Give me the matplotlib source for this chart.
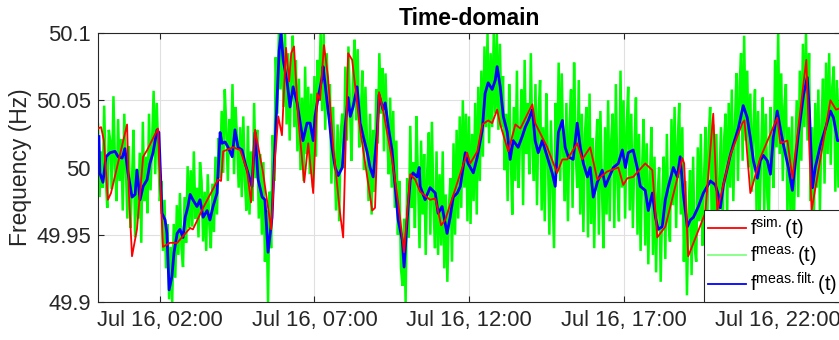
import numpy as np
import matplotlib
matplotlib.use("Agg")
import matplotlib.pyplot as plt
import matplotlib.dates as mdates

plt.rcParams["font.family"] = ["Liberation Sans", "DejaVu Sans"]
plt.rcParams["mathtext.fontset"] = "custom"
plt.rcParams["mathtext.rm"] = "Liberation Sans"
plt.rcParams["mathtext.it"] = "Liberation Sans"

# ---- data (hours after Jul 16, 00:00; frequency in Hz) ----
sim_hours = [0.00, 0.10, 0.19, 0.32, 0.42, 0.94, 1.00, 1.10, 1.26, 1.46, 1.59, 1.94,
             2.10, 2.33, 2.56, 2.98, 3.07, 3.40, 3.88, 3.98, 4.05, 4.37, 4.60, 4.82,
             4.95, 5.08, 5.34, 5.60, 5.73, 5.83, 5.95, 6.08, 6.18, 6.25, 6.34, 6.47,
             6.67, 6.80, 6.96, 7.09, 7.18, 7.31, 7.44, 7.61, 7.83, 7.93, 8.09, 8.22,
             8.48, 8.87, 8.96, 9.09, 9.22, 9.51, 9.71, 9.90, 10.10, 10.26, 10.42, 10.74,
             10.91, 11.10, 11.23, 11.94, 12.04, 12.27, 12.43, 12.62, 12.75, 12.91, 13.01,
             13.27, 13.50, 13.66, 14.05, 14.14, 14.53, 14.85, 15.02, 15.18, 15.50, 15.66,
             15.92, 16.15, 16.47, 16.83, 16.99, 17.12, 17.31, 17.70, 17.93, 18.09, 18.35,
             18.90, 18.96, 19.09, 19.64, 19.90, 20.03, 20.45, 20.84, 20.91, 21.10, 21.42,
             21.97, 22.07, 22.30, 22.46, 22.91, 23.08, 23.69, 23.87, 24.00]
sim_freq = [50.029, 50.030, 50.020, 49.976, 49.981, 50.032, 49.981, 49.934, 49.954, 50.008,
            50.013, 50.029, 49.941, 49.944, 49.944, 49.955, 49.954, 49.970, 49.991, 49.990,
            50.012, 50.015, 50.013, 49.998, 49.974, 50.028, 49.996, 49.954, 50.008, 50.038,
            50.024, 50.089, 50.064, 50.085, 50.090, 50.038, 49.989, 50.018, 49.981, 50.055,
            50.050, 50.091, 50.067, 50.015, 49.966, 49.948, 50.085, 50.080, 50.028, 49.968,
            49.970, 50.056, 50.043, 50.006, 49.974, 49.937, 49.995, 49.991, 49.982, 49.976,
            49.977, 49.957, 49.961, 50.011, 50.003, 50.012, 50.032, 50.035, 50.033, 50.043,
            50.032, 50.012, 50.032, 50.029, 50.047, 50.033, 50.015, 49.996, 50.006, 50.006,
            50.018, 50.006, 50.015, 49.991, 49.997, 50.000, 49.987, 49.992, 49.993, 50.003,
            49.998, 49.948, 49.956, 50.007, 50.003, 49.934, 49.966, 50.040, 49.968, 50.009,
            50.033, 50.035, 49.981, 50.007, 50.037, 50.018, 50.020, 49.992, 50.080, 49.968,
            50.050, 50.043, 50.044]

filt_hours = [0.03, 0.06, 0.16, 0.26, 0.39, 0.55, 0.65, 0.78, 0.87, 0.97, 1.10, 1.20, 1.26,
              1.36, 1.46, 1.59, 1.68, 1.78, 1.91, 1.97, 2.07, 2.17, 2.23, 2.30, 2.39, 2.46,
              2.56, 2.65, 2.75, 2.82, 2.91, 2.98, 3.07, 3.20, 3.30, 3.40, 3.53, 3.62, 3.72,
              3.85, 3.95, 4.01, 4.11, 4.21, 4.34, 4.43, 4.53, 4.66, 4.76, 4.85, 4.98, 5.08,
              5.18, 5.31, 5.40, 5.50, 5.63, 5.70, 5.79, 5.86, 5.92, 5.99, 6.12, 6.21, 6.31,
              6.44, 6.54, 6.63, 6.76, 6.86, 6.96, 7.02, 7.12, 7.25, 7.28, 7.38, 7.48, 7.57,
              7.67, 7.77, 7.90, 7.99, 8.09, 8.16, 8.25, 8.38, 8.48, 8.58, 8.71, 8.80, 8.90,
              9.03, 9.09, 9.22, 9.29, 9.39, 9.51, 9.61, 9.71, 9.84, 9.90, 10.00, 10.10,
              10.19, 10.32, 10.39, 10.42, 10.58, 10.74, 10.91, 11.00, 11.13, 11.29, 11.39,
              11.49, 11.62, 11.72, 11.88, 11.97, 12.14, 12.27, 12.43, 12.52, 12.62, 12.75,
              12.85, 12.91, 13.01, 13.11, 13.24, 13.33, 13.43, 13.59, 13.72, 13.82, 13.92,
              14.05, 14.14, 14.24, 14.37, 14.53, 14.69, 14.79, 14.89, 15.02, 15.11, 15.21,
              15.37, 15.50, 15.60, 15.70, 15.83, 15.92, 16.02, 16.15, 16.31, 16.41, 16.50,
              16.67, 16.83, 16.96, 17.06, 17.15, 17.31, 17.44, 17.54, 17.70, 17.80, 17.93,
              18.03, 18.12, 18.25, 18.35, 18.45, 18.61, 18.74, 18.83, 18.93, 19.06, 19.16,
              19.26, 19.42, 19.58, 19.71, 19.81, 19.97, 20.06, 20.13, 20.23, 20.36, 20.45,
              20.55, 20.71, 20.87, 21.00, 21.10, 21.20, 21.33, 21.42, 21.52, 21.65, 21.75,
              21.84, 21.97, 22.07, 22.17, 22.33, 22.46, 22.56, 22.65, 22.82, 22.94, 23.01,
              23.11, 23.20, 23.37, 23.53, 23.69, 23.79, 23.92, 24.00]
filt_freq = [50.023, 49.996, 49.989, 50.008, 50.011, 50.012, 50.008, 50.007, 50.014, 49.996,
             49.978, 49.980, 49.998, 49.976, 49.986, 49.991, 50.003, 50.011, 50.028, 50.026,
             49.966, 49.961, 49.951, 49.909, 49.919, 49.937, 49.951, 49.954, 49.948, 49.963,
             49.971, 49.980, 49.976, 49.971, 49.976, 49.963, 49.968, 49.961, 49.971, 49.981,
             50.026, 50.018, 50.019, 50.015, 50.008, 50.028, 50.015, 50.013, 50.003, 49.996,
             49.986, 50.026, 49.991, 49.978, 49.976, 49.937, 49.963, 50.003, 50.050, 50.087,
             50.100, 50.080, 50.063, 50.045, 50.060, 50.048, 50.033, 50.020, 50.033, 50.033,
             50.020, 50.038, 50.052, 50.067, 50.075, 50.055, 50.035, 50.015, 50.000, 49.994,
             50.000, 50.030, 50.052, 50.038, 50.045, 50.060, 50.033, 50.023, 50.011, 50.000,
             49.993, 50.026, 50.054, 50.043, 50.048, 50.030, 50.013, 49.986, 49.961, 49.946,
             49.926, 49.961, 49.991, 49.996, 49.993, 50.000, 49.986, 49.976, 49.985, 49.981,
             49.966, 49.971, 49.951, 49.963, 49.978, 49.981, 49.986, 50.011, 50.003, 49.996,
             50.008, 50.028, 50.055, 50.063, 50.058, 50.065, 50.075, 50.060, 50.038, 50.026,
             50.006, 50.020, 50.015, 50.023, 50.030, 50.035, 50.043, 50.020, 50.011, 50.020,
             50.008, 49.996, 49.986, 50.026, 50.035, 50.015, 50.008, 50.006, 50.033, 50.015,
             50.003, 49.993, 50.000, 49.978, 49.989, 49.998, 49.986, 49.991, 50.000, 50.003,
             50.013, 50.000, 50.011, 50.013, 50.000, 49.986, 49.983, 49.968, 49.981, 49.963,
             49.954, 49.956, 49.976, 49.986, 50.000, 49.993, 50.008, 49.981, 49.956, 49.961,
             49.963, 49.971, 49.981, 49.986, 49.990, 49.987, 49.980, 49.970, 49.987, 50.000,
             50.009, 50.017, 50.029, 50.046, 50.037, 50.022, 50.005, 49.992, 50.005, 50.009,
             50.005, 49.995, 50.022, 50.042, 50.029, 50.017, 50.000, 49.983, 50.005, 50.024,
             50.054, 50.067, 50.042, 49.985, 50.000, 50.017, 50.029, 50.042, 50.037, 50.020,
             50.020]

# measured frequency, one row per hour, sampled every 3 minutes
meas_freq = [
    50.032, 49.978, 50.012, 49.985, 50.046, 49.992, 49.970, 50.028, 50.019, 49.984,
    50.053, 50.002, 49.975, 50.036, 49.990, 50.021, 49.968, 50.040, 50.001, 49.962,
    50.016, 49.955, 49.990, 50.028, 49.948, 49.999, 49.962, 50.011, 49.944, 50.034,
    49.975, 50.008, 49.966, 50.040, 49.983, 50.021, 50.057, 49.995, 50.048, 50.012,
    49.975, 49.990, 49.938, 49.976, 49.925, 49.958, 49.902, 49.941, 49.900, 49.958,
    49.918, 49.972, 49.935, 49.981, 49.940, 49.926, 49.978, 49.944, 50.001, 49.955,
    49.998, 49.956, 50.012, 49.962, 49.985, 49.948, 50.004, 49.990, 49.945, 49.982,
    49.938, 49.995, 49.958, 49.940, 49.988, 49.952, 50.008, 49.965, 50.022, 49.992,
    50.042, 49.996, 50.058, 50.030, 49.990, 50.036, 50.010, 50.062, 49.995, 50.045,
    50.020, 49.985, 50.030, 49.978, 50.038, 49.990, 49.968, 50.031, 49.965, 50.012,
    49.975, 50.048, 49.992, 50.028, 49.962, 50.010, 49.950, 50.004, 49.930, 49.968,
    49.900, 49.982, 49.940, 50.024, 49.990, 50.082, 50.040, 50.100, 50.058, 50.100,
    50.045, 50.100, 50.032, 50.085, 50.020, 50.072, 50.098, 50.030, 50.080, 50.012,
    50.066, 49.998, 50.052, 49.990, 50.075, 50.010, 50.060, 49.995, 50.055, 49.985,
    50.068, 50.008, 50.080, 50.050, 50.100, 50.042, 50.100, 50.028, 50.085, 50.040,
    50.062, 49.988, 50.045, 50.010, 49.968, 50.032, 49.960, 50.025, 50.040, 50.000,
    50.075, 50.020, 50.090, 50.045, 50.005, 50.070, 50.095, 50.035, 50.088, 50.015,
    50.040, 50.072, 49.998, 50.060, 50.020, 49.975, 50.040, 49.965, 50.028, 49.982,
    50.058, 50.018, 50.085, 50.040, 50.074, 50.012, 50.070, 50.030, 49.995, 50.052,
    49.985, 50.042, 49.970, 50.020, 49.950, 49.990, 49.925, 49.912, 49.962, 49.900,
    49.992, 49.948, 50.031, 49.970, 50.004, 49.955, 50.038, 49.992, 49.940, 50.020,
    49.965, 50.010, 49.935, 49.998, 50.026, 49.950, 50.034, 49.972, 49.940, 50.012,
    49.935, 49.995, 49.942, 50.012, 49.925, 49.980, 49.915, 49.970, 49.992, 49.930,
    50.018, 49.950, 50.028, 49.962, 50.038, 49.970, 50.050, 49.985, 50.040, 49.960,
    50.038, 49.958, 50.025, 49.975, 50.048, 49.965, 50.060, 49.990, 50.072, 50.008,
    50.090, 50.030, 50.100, 50.018, 50.085, 50.030, 50.100, 50.040, 50.100, 50.028,
    50.092, 50.030, 50.068, 49.998, 50.040, 49.975, 50.062, 50.010, 49.965, 50.045,
    49.990, 50.072, 49.985, 50.020, 50.058, 49.972, 50.080, 50.010, 50.048, 49.995,
    50.085, 50.015, 49.990, 50.062, 49.972, 50.040, 50.065, 49.968, 50.030, 49.960,
    50.055, 50.010, 49.950, 50.035, 49.988, 49.940, 50.048, 50.000, 50.078, 49.990,
    50.070, 50.010, 49.975, 50.048, 49.960, 50.030, 50.058, 49.970, 50.078, 50.012,
    49.985, 50.065, 49.965, 50.040, 49.952, 50.025, 50.045, 49.948, 50.055, 49.958,
    50.022, 49.940, 50.010, 50.036, 49.950, 50.042, 49.985, 49.940, 50.030, 49.965,
    50.050, 49.960, 50.020, 50.040, 49.955, 50.062, 49.990, 49.960, 50.072, 49.985,
    50.050, 49.962, 50.030, 50.060, 49.968, 50.040, 49.955, 50.012, 50.052, 49.950,
    50.025, 49.938, 50.000, 50.036, 49.942, 50.018, 49.928, 49.990, 50.030, 49.935,
    50.008, 49.922, 49.980, 50.000, 49.915, 49.975, 50.008, 49.932, 50.025, 49.960,
    49.945, 50.036, 49.972, 50.045, 49.955, 50.018, 50.048, 49.965, 50.030, 49.930,
    49.990, 49.905, 49.965, 49.998, 49.920, 50.008, 49.940, 49.930, 50.015, 49.960,
    50.025, 49.942, 49.990, 50.030, 49.948, 50.020, 50.045, 49.960, 50.032, 49.950,
    50.025, 49.948, 49.990, 50.030, 49.940, 50.020, 50.040, 49.962, 50.048, 49.985,
    50.058, 49.975, 50.030, 50.070, 49.990, 50.060, 50.085, 50.005, 50.098, 50.020,
    50.072, 50.000, 50.055, 49.982, 50.030, 50.058, 49.968, 50.042, 49.965, 50.012,
    50.052, 49.968, 50.040, 49.978, 49.960, 50.045, 50.010, 49.985, 50.080, 50.015,
    50.100, 50.010, 50.070, 49.990, 50.045, 50.062, 49.965, 50.030, 49.962, 50.038,
    49.948, 50.005, 50.050, 49.978, 50.072, 50.005, 50.092, 50.030, 50.100, 50.020,
    50.085, 49.975, 50.030, 49.950, 50.048, 49.985, 50.058, 49.968, 50.030, 50.066,
    49.988, 50.078, 50.010, 50.085, 50.002, 50.060, 50.075, 49.982, 50.065, 49.985,
    50.058,
]
meas_hours = np.arange(len(meas_freq)) * 0.05

y_ticks = [49.9, 49.95, 50.0, 50.05, 50.1]
tick_hours = [2, 7, 12, 17, 22]
legend_labels = [r"$\mathrm{f^{sim.}(t)}$", r"$\mathrm{f^{meas.}(t)}$",
                 r"$\mathrm{f^{meas.filt.}(t)}$"]

start = np.datetime64("2021-07-16T00:00:00")


def to_time(hours):
    secs = np.round(np.asarray(hours, dtype=float) * 3600).astype("int64")
    return start + secs.astype("timedelta64[s]")


fig = plt.figure(figsize=(8.39, 3.40), dpi=100)
ax = fig.add_axes([98 / 839, 1 - 302 / 340, 742 / 839, 269 / 340])

l_meas, = ax.plot(to_time(meas_hours), meas_freq, color=(0, 1, 0), lw=1.8,
                  solid_joinstyle="miter", zorder=2)
l_filt, = ax.plot(to_time(filt_hours), filt_freq, color=(0, 0, 1), lw=2.0, zorder=3)
l_sim, = ax.plot(to_time(sim_hours), sim_freq, color=(1, 0, 0), lw=1.3, zorder=4)

ax.set_xlim(to_time([0.0])[0], to_time([24.0])[0])
ax.set_ylim(49.9, 50.1)
ax.set_yticks(y_ticks)
ax.set_yticklabels([f"{v:g}" for v in y_ticks])
ax.set_xticks(to_time(tick_hours))
ax.xaxis.set_major_formatter(mdates.DateFormatter("%b %d, %H:%M"))

ax.grid(True, color="0.88", lw=0.8)
ax.set_axisbelow(True)
for s in ax.spines.values():
    s.set_color("0.15")
    s.set_linewidth(0.8)
ax.tick_params(direction="in", top=True, right=True, length=4, width=0.8,
               color="0.15", labelcolor="0.15", labelsize=15.8)
ax.tick_params(axis="x", pad=6)
ax.tick_params(axis="y", pad=5)

ax.set_ylabel("Frequency (Hz)", fontsize=16.5, color="0.15")
ax.yaxis.set_label_coords(-0.089, 0.5)
ax.set_title("Time-domain", fontsize=16.5, fontweight="bold", pad=5.5)

leg = ax.legend([l_sim, l_meas, l_filt], legend_labels, loc="lower left",
                bbox_to_anchor=(0.8167, 0.0), borderaxespad=0, fontsize=14.5,
                frameon=True, fancybox=False, framealpha=1, edgecolor="0.15",
                handlelength=1.85, handletextpad=0.2, labelspacing=0.12,
                borderpad=0.22)
leg.get_frame().set_linewidth(0.8)
leg.get_lines()[1].set_color((0.5, 1, 0.5))
for ln in leg.get_lines():
    ln.set_linewidth(1.3)

fig.savefig("out.png", dpi=100)
